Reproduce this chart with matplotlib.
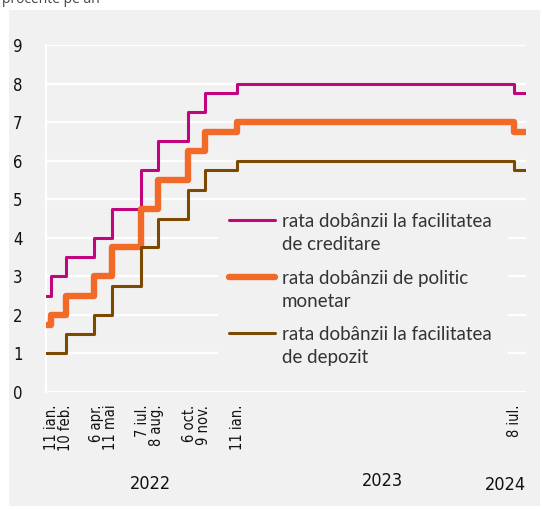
import pandas as pd
import matplotlib.pyplot as plt
from matplotlib.lines import Line2D
from matplotlib.patches import Rectangle

# Decision dates (step changes) and rates, % per year
dates = ['2022-01-01', '2022-01-11', '2022-02-10', '2022-04-06', '2022-05-11',
         '2022-07-07', '2022-08-08', '2022-10-06', '2022-11-09', '2023-01-11',
         '2024-07-08', '2024-07-31']
lending = [2.5, 3.0, 3.5, 4.0, 4.75, 5.75, 6.5, 7.25, 7.75, 8.0, 7.75, 7.75]
policy = [1.75, 2.0, 2.5, 3.0, 3.75, 4.75, 5.5, 6.25, 6.75, 7.0, 6.75, 6.75]
deposit = [1.0, 1.0, 1.5, 2.0, 2.75, 3.75, 4.5, 5.25, 5.75, 6.0, 5.75, 5.75]

# x labels: groups of decision dates shown as one rotated label
label_groups = [['2022-01-11', '2022-02-10'], ['2022-04-06', '2022-05-11'],
                ['2022-07-07', '2022-08-08'], ['2022-10-06', '2022-11-09'],
                ['2023-01-11'], ['2024-07-08']]
label_texts = ['11 ian.\n10 feb.', '6 apr.\n11 mai', '7 iul.\n8 aug.',
               '6 oct.\n9 nov.', '11 ian.', '8 iul.']
years = ['2022', '2023', '2024']

legend_labels = ['rata dobânzii la facilitatea\nde creditare',
                 'rata dobânzii de politic\nmonetar',
                 'rata dobânzii la facilitatea\nde depozit']

c_lend = '#c0057f'
c_pol = '#f26a27'
c_dep = '#7b4a00'
bg = '#f1f1f1'
narrow = dict(family='DejaVu Sans', stretch='condensed')

W, H = 542, 509
fig = plt.figure(figsize=(W / 100, H / 100), dpi=100, facecolor='white')

def fx(x):
    return x / W

def fy(y):
    return 1 - y / H

# gray panel
fig.add_artist(Rectangle((fx(9), fy(506)), fx(540) - fx(9), fy(10) - fy(506),
                         transform=fig.transFigure, facecolor=bg, edgecolor='none', zorder=0))

ax = fig.add_axes([fx(46), fy(392), fx(526) - fx(46), fy(45) - fy(392)])
ax.set_facecolor(bg)
ax.patch.set_alpha(0)

x = pd.to_datetime(dates)
ax.step(x, lending, where='post', color=c_lend, lw=2.2, zorder=3)
ax.step(x, policy, where='post', color=c_pol, lw=4.6, zorder=3, solid_capstyle='round')
ax.step(x, deposit, where='post', color=c_dep, lw=2.2, zorder=3)

ax.set_xlim(x[0], x[-1])
ax.set_ylim(0, 9)
ax.set_yticks(range(0, 10))
ax.grid(axis='y', color='white', lw=1.6)
ax.set_axisbelow(True)
for s in ['top', 'right', 'bottom']:
    ax.spines[s].set_visible(False)
ax.spines['left'].set_color('white')
ax.spines['left'].set_linewidth(1.6)
ax.tick_params(axis='y', length=0, pad=17, labelsize=12, labelcolor='#111111')
for t in ax.get_yticklabels():
    t.set_fontstretch('condensed')
ax.set_xticks([])

# rotated date labels
for grp, txt in zip(label_groups, label_texts):
    gx = pd.to_datetime(grp)
    mid = gx[0] + (gx[-1] - gx[0]) / 2
    ax.text(mid, -0.33, txt, rotation=90, ha='center', va='top', multialignment='right',
            fontsize=10.5, color='#111111', linespacing=0.95, **narrow)

for yr, px, py in zip(years, [150, 382, 505], [484, 481, 485]):
    fig.text(fx(px), fy(py), yr, ha='center', va='center', fontsize=13,
             color='#111111', **narrow)

# legend box and entries
ax.add_patch(Rectangle((fx(218), fy(374)), fx(508) - fx(218), fy(205) - fy(374),
                       transform=fig.transFigure, facecolor=bg, edgecolor='none', zorder=1))
for lab, col, lw, hy in zip(legend_labels, [c_lend, c_pol, c_dep], [2.2, 4.6, 2.2], [220, 277, 333]):
    fig.add_artist(Line2D([fx(229), fx(275)], [fy(hy), fy(hy)], transform=fig.transFigure,
                          color=col, lw=lw, solid_capstyle='round', zorder=4))
    fig.text(fx(282), fy(hy - 7), lab, ha='left', va='top', fontsize=13.5,
             family=['Lato', 'DejaVu Sans'], color='#333333', linespacing=1.45,
             zorder=4)

fig.text(fx(2), fy(3), 'procente pe an', ha='left', va='baseline', fontsize=10,
         family=['Open Sans', 'DejaVu Sans'], color='#444444')

fig.savefig('out.png', dpi=100, facecolor='white')
